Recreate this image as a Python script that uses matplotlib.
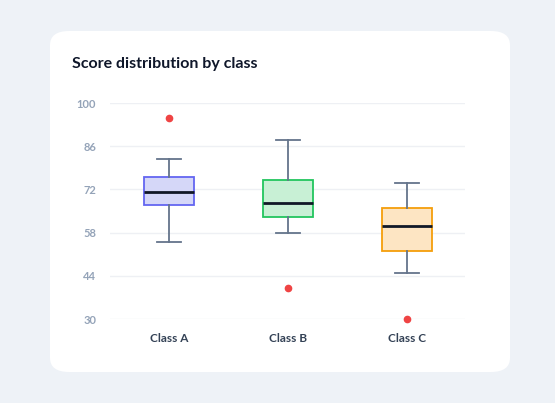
import matplotlib
matplotlib.use("Agg")
import matplotlib.pyplot as plt
from matplotlib.patches import FancyBboxPatch

plt.rcParams['font.family'] = ['Lato', 'DejaVu Sans']

categories = ["Class A", "Class B", "Class C"]
whislo = [55, 58, 45]
q1 = [67, 63, 52]
med = [71, 67.6, 60]
q3 = [76, 75, 66]
whishi = [82, 88, 74]
outliers = [[95], [40], [30]]
yticks = [30, 44, 58, 72, 86, 100]
fills = ["#d5d7f8", "#c8f0d5", "#fde5c3"]
edges = ["#6366f1", "#22c55e", "#f59e0b"]

fig = plt.figure(figsize=(5.55, 4.03), dpi=100)
fig.patch.set_facecolor("#eef2f7")
card = FancyBboxPatch((50/555, (403-372)/403), 460/555, 341/403,
                      boxstyle="round,pad=0,rounding_size=0.035",
                      transform=fig.transFigure, facecolor="white", edgecolor="none",
                      zorder=-10)
fig.patches.append(card)
fig.text(72/555, 1-64/403, "Score distribution by class", fontsize=11.5, fontweight="bold",
         color="#0f172a", va="center", ha="left")

ax = fig.add_axes([110/555, 84/403, 355/555, 216/403])
ax.set_zorder(5)
ax.set_facecolor("none")
stats = [dict(label=c, whislo=a, q1=b, med=m, q3=d, whishi=e, fliers=f)
         for c, a, b, m, d, e, f in zip(categories, whislo, q1, med, q3, whishi, outliers)]
bp = ax.bxp(stats, positions=range(len(categories)), widths=0.42, patch_artist=True,
            showcaps=True,
            whiskerprops=dict(color="#64748b", lw=1.3),
            capprops=dict(color="#64748b", lw=1.3),
            medianprops=dict(color="#111827", lw=2),
            flierprops=dict(marker="o", markersize=4.5, markerfacecolor="#ef4444",
                            markeredgecolor="#ef4444"))
for box, fc, ec in zip(bp["boxes"], fills, edges):
    box.set_facecolor(fc); box.set_edgecolor(ec); box.set_linewidth(1.3)
for cap in bp["caps"]:
    x = cap.get_xdata(); c = (x[0]+x[1])/2
    cap.set_xdata([c-0.1, c+0.1])
for fl in bp["fliers"]:
    fl.set_clip_on(False)
ax.set_xlim(-0.496, 2.487)
ax.set_ylim(30, 100)
ax.set_yticks(yticks)
ax.grid(axis="y", color="#eef0f4", lw=1)
ax.set_axisbelow(True)
for s in ax.spines.values():
    s.set_visible(False)
ax.tick_params(axis="y", length=0, labelsize=8, labelcolor="#94a3b8", pad=10)
ax.tick_params(axis="x", length=0, labelsize=8.5, labelcolor="#334155", pad=10)
for t in ax.get_yticklabels(): t.set_fontweight("bold")
for t in ax.get_xticklabels(): t.set_fontweight("bold")
fig.savefig("out.png", dpi=100, facecolor=fig.get_facecolor())
